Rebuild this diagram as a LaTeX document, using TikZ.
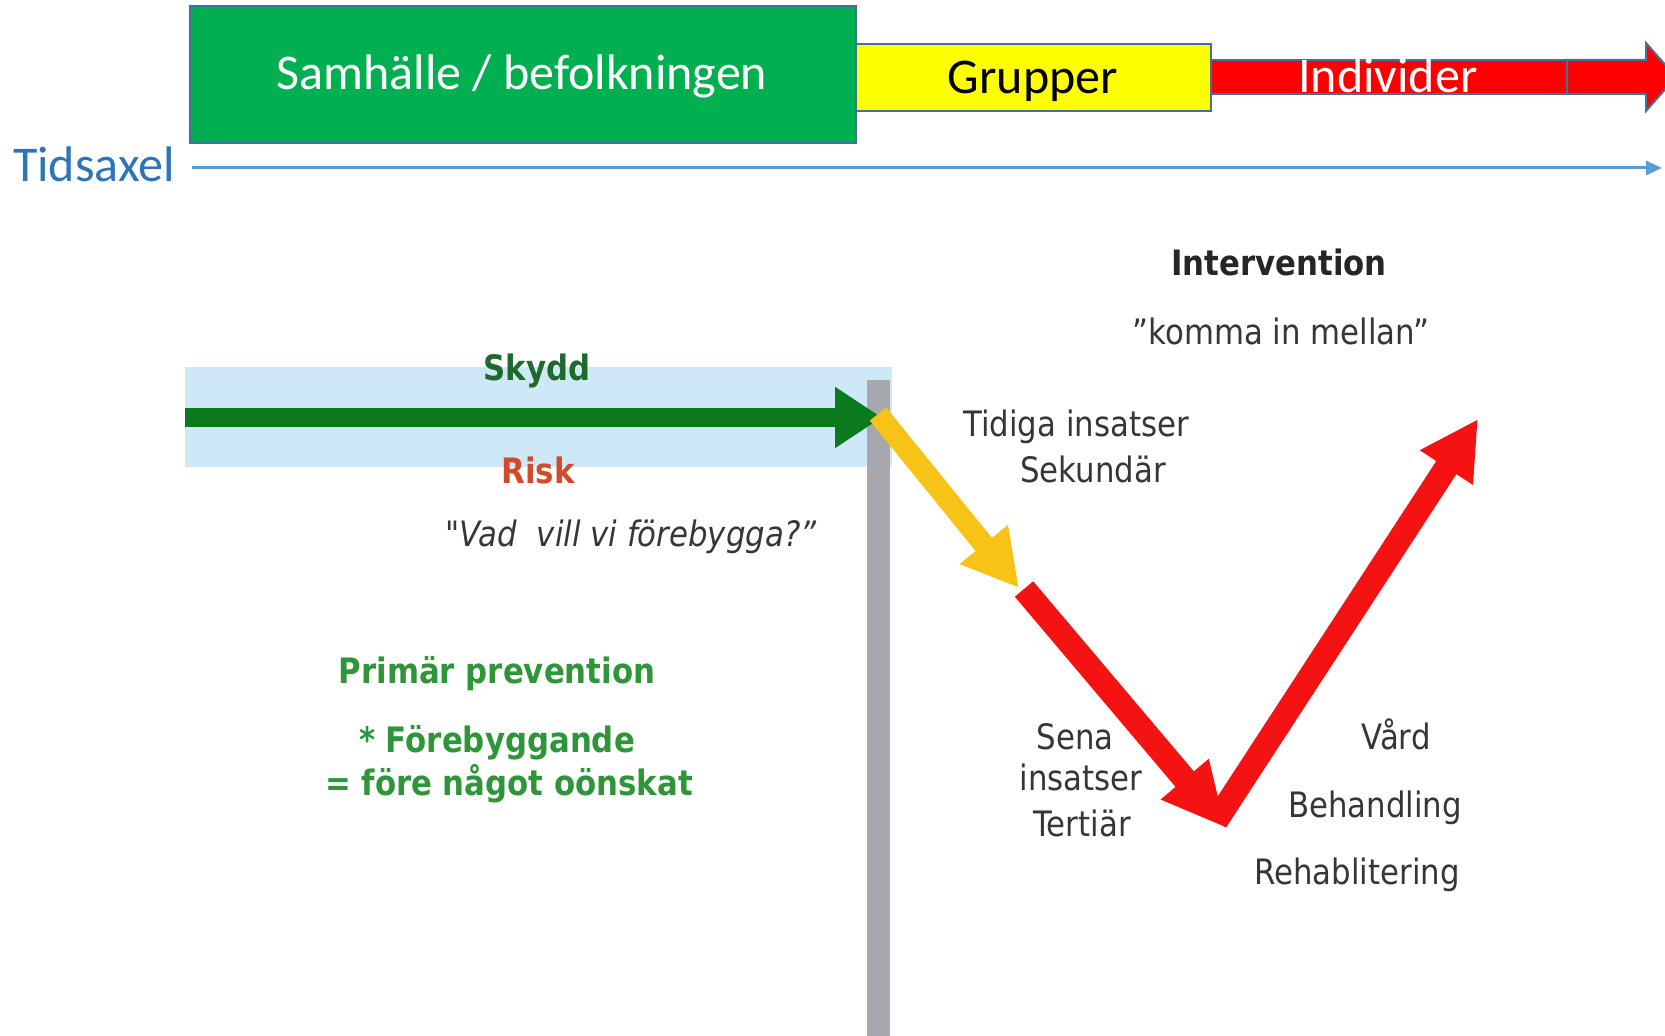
\documentclass[tikz,border=0pt]{standalone}
\usepackage{fontspec}
\usetikzlibrary{arrows.meta}
\newfontfamily\topfont{Carlito}
\newfontfamily\lowfont[FakeStretch=0.88]{DejaVu Sans}

\definecolor{boxline}{HTML}{41719C}
\definecolor{boxgreen}{HTML}{00B050}
\definecolor{boxyellow}{HTML}{FFFF00}
\definecolor{boxred}{HTML}{FF0000}
\definecolor{axisblue}{HTML}{5B9BD5}
\definecolor{axistext}{HTML}{2E75B6}
\definecolor{bandblue}{HTML}{CFE8F8}
\definecolor{bargrey}{HTML}{A7A7AE}
\definecolor{arrgreen}{HTML}{0A7A1C}
\definecolor{arryellow}{HTML}{F8C317}
\definecolor{arrred}{HTML}{F51212}
\definecolor{skyddgreen}{HTML}{1D6B2C}
\definecolor{riskred}{HTML}{D24A2A}
\definecolor{primgreen}{HTML}{2E9638}
\definecolor{txtgrey}{HTML}{363636}

\begin{document}
\begin{tikzpicture}[x=0.5pt,y=-0.5pt,
  topbox/.style={draw=boxline, line width=1pt, line join=miter},
  toptext/.style={font=\topfont\fontsize{25}{30}\selectfont, inner sep=0pt, anchor=base},
  lowtext/.style={font=\lowfont\fontsize{17.5}{21}\selectfont, inner sep=0pt, anchor=base, text=txtgrey},
  lowbold/.style={lowtext, font=\lowfont\bfseries\fontsize{17.5}{21}\selectfont},
  lowital/.style={lowtext, font=\lowfont\itshape\fontsize{17.5}{21}\selectfont},
  timeaxis/.style={draw=axisblue, line width=1.5pt, -{Triangle[length=8pt,width=7pt]}},
  greenarrow/.style={draw=arrgreen, line width=9.5pt, -{Triangle[length=23.5pt,width=29pt]}},
  yellowarrow/.style={draw=arryellow, line width=10.5pt, -{Triangle[length=28pt,width=29pt]}},
  reddown/.style={draw=arrred, line width=12pt, -{Triangle[length=32pt,width=29pt]}},
  redup/.style={draw=arrred, line width=12pt, -{Triangle[length=29pt,width=29.5pt]}}
]
\useasboundingbox (0,0) rectangle (1665,1036);
\clip (0,0) rectangle (1665,1036);
\fill[white] (0,0) rectangle (1665,1036);

% ---- target-group bar ----
\fill[boxgreen, topbox] (190,6) rectangle (856,143);
\fill[boxyellow, topbox] (856,44) rectangle (1211,111);
\fill[boxred, topbox] (1211,60) rectangle (1567,94);
\fill[boxred, topbox] (1567,60) -- (1646,60) -- (1646,43) -- (1676,77)
   -- (1646,111) -- (1646,94) -- (1567,94) -- cycle;

\node[toptext, text=white] (samhalle) at (522,90) {Samhälle / befolkningen};
\node[toptext, text=black] (grupper) at (1033,94) {Grupper};
\node[toptext, text=white] (individer) at (1388,93) {Individer};

% ---- time axis ----
\node[toptext, text=axistext] (tidsaxel) at (94,182) {Tidsaxel};
\coordinate (axisL) at (192,168);
\coordinate (axisR) at (1662,168);
\draw[timeaxis] (axisL) -- (axisR);

% ---- protection / risk band and the event line ----
\fill[bandblue] (185,367) rectangle (892,467);
\fill[bargrey] (867,380) rectangle (890,1036);

\coordinate (gA) at (185,417.5);
\coordinate (gB) at (882,417.5);
\coordinate (yA) at (878,414);
\coordinate (yB) at (1019,588);
\coordinate (rA) at (1024,589);
\coordinate (rB) at (1226,828);
\coordinate (uA) at (1216,821);
\coordinate (uB) at (1478,419);

\draw[greenarrow] (gA) -- (gB);
\draw[reddown] (rA) -- (rB);
\draw[redup] (uA) -- (uB);
\draw[yellowarrow] (yA) -- (yB);

% ---- left side labels ----
\node[lowbold, text=skyddgreen] (skydd) at (537,381) {Skydd};
\node[lowbold, text=riskred] (risk) at (538,484) {Risk};
\node[lowital] (vad) at (631,547) {"Vad~ vill vi förebygga?”};
\node[lowbold, text=primgreen] (primar) at (497,684) {Primär prevention};
\node[lowbold, text=primgreen] (foreb) at (497,753) {* Förebyggande};
\node[lowbold, text=primgreen] (fore) at (509,796) {= före något oönskat};

% ---- right side labels ----
\node[lowbold, text=black!85] (interv) at (1279,276) {Intervention};
\node[lowtext] (komma) at (1281,345) {”komma in mellan”};
\node[lowtext] (tidiga) at (1076,437) {Tidiga insatser};
\node[lowtext] (sekund) at (1093,483) {Sekundär};
\node[lowtext] (sena) at (1075,749) {Sena};
\node[lowtext] (insatser) at (1081,791) {insatser};
\node[lowtext] (tertiar) at (1082,836) {Tertiär};
\node[lowtext] (vard) at (1396,750) {Vård};
\node[lowtext] (behand) at (1375,818) {Behandling};
\node[lowtext] (rehab) at (1357,884) {Rehablitering};
\end{tikzpicture}
\end{document}
